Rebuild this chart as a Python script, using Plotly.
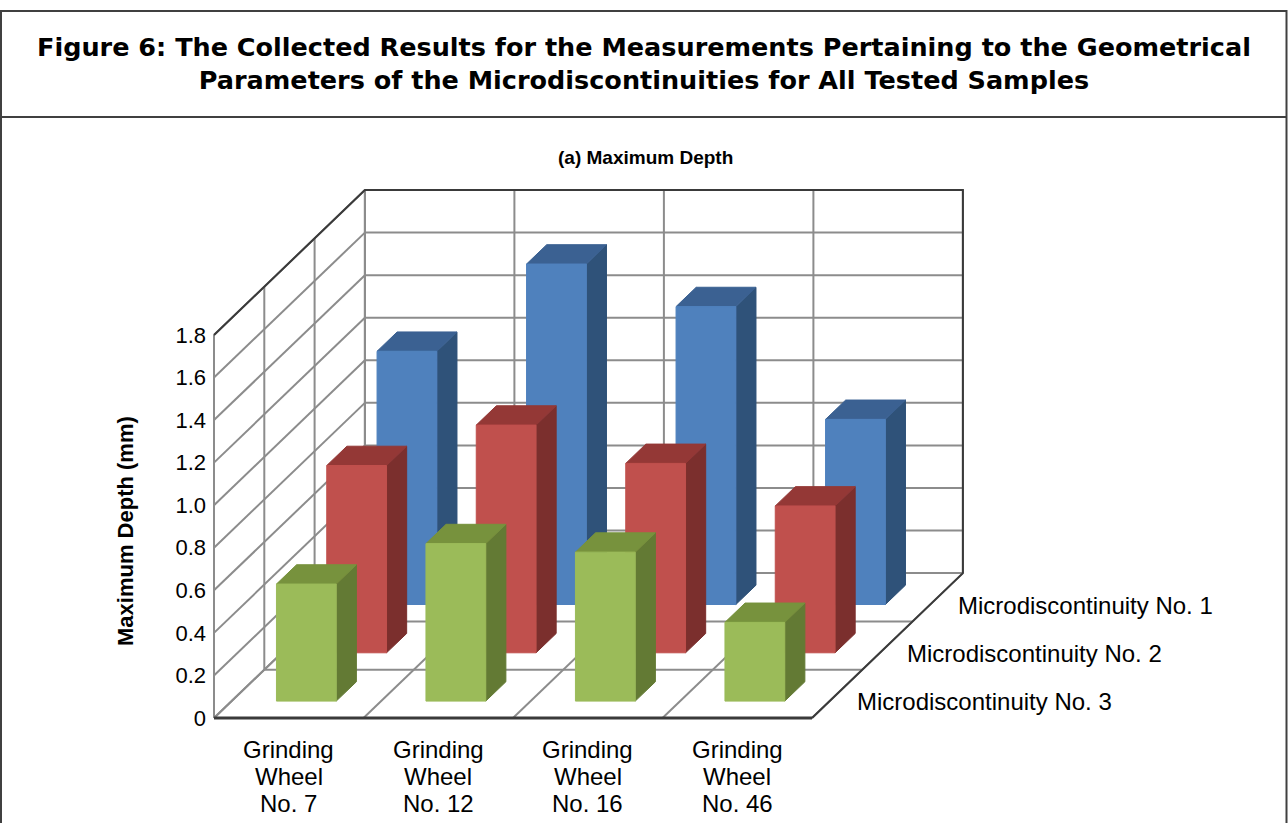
import plotly.graph_objects as go

# ---- data -------------------------------------------------------------
categories = ["Grinding Wheel No. 7", "Grinding Wheel No. 12",
              "Grinding Wheel No. 16", "Grinding Wheel No. 46"]
series_names = ["Microdiscontinuity No. 1", "Microdiscontinuity No. 2",
                "Microdiscontinuity No. 3"]
depth_no1 = [1.19, 1.60, 1.40, 0.87]
depth_no2 = [0.88, 1.07, 0.89, 0.69]
depth_no3 = [0.55, 0.74, 0.70, 0.37]
value_ticks = [0, 0.2, 0.4, 0.6, 0.8, 1.0, 1.2, 1.4, 1.6, 1.8]
value_tick_labels = ["0", "0.2", "0.4", "0.6", "0.8", "1.0", "1.2", "1.4", "1.6", "1.8"]

# ---- layout of the oblique 3-D box -----------------------------------
W, H = 1288, 823
PX_CAT = 149.5          # pixels per category along the front edge
PX_VAL = 212.8          # pixels per value unit
ORIGIN_X, ORIGIN_Y = 214, 718   # front-left floor corner in pixels
ROW_DX = 50.3 / PX_CAT  # depth shift per series row (x units)
ROW_DY = 48.3 / PX_VAL  # depth shift per series row (value units)
N_CAT = len(categories)
N_ROW = len(series_names)
VMAX = value_ticks[-1]
BAR_W = 0.4             # bar width as a fraction of a category slot
BAR_D = 0.4             # bar depth as a fraction of a series row
BAR_D_OFFSET = 0.35     # front face position inside the row

x_range = [-ORIGIN_X / PX_CAT, (W - ORIGIN_X) / PX_CAT]
y_range = [(ORIGIN_Y - H) / PX_VAL, ORIGIN_Y / PX_VAL]


def proj(x, v, d):
    """Oblique projection: category x, value v, depth d (rows from front)."""
    return x + d * ROW_DX, v + d * ROW_DY


def add_segments(xs, ys, pts):
    for p in pts:
        xs.append(p[0])
        ys.append(p[1])
    xs.append(None)
    ys.append(None)


fig = go.Figure()

# ---- walls and floor gridlines ---------------------------------------
gx, gy = [], []
for v in value_ticks:
    add_segments(gx, gy, [proj(0, v, N_ROW), proj(N_CAT, v, N_ROW)])   # back wall
    add_segments(gx, gy, [proj(0, v, 0), proj(0, v, N_ROW)])           # side wall
for c in range(N_CAT + 1):
    add_segments(gx, gy, [proj(c, 0, N_ROW), proj(c, VMAX, N_ROW)])    # back wall
    add_segments(gx, gy, [proj(c, 0, 0), proj(c, 0, N_ROW)])           # floor
for r in range(N_ROW + 1):
    add_segments(gx, gy, [proj(0, 0, r), proj(0, VMAX, r)])            # side wall
    add_segments(gx, gy, [proj(0, 0, r), proj(N_CAT, 0, r)])           # floor
fig.add_trace(go.Scatter(x=gx, y=gy, mode="lines",
                         line=dict(color="#8c8c8c", width=2),
                         hoverinfo="skip"))

ex, ey = [], []
add_segments(ex, ey, [proj(0, VMAX, 0), proj(0, VMAX, N_ROW), proj(N_CAT, VMAX, N_ROW),
                      proj(N_CAT, 0, N_ROW), proj(N_CAT, 0, 0)])
fig.add_trace(go.Scatter(x=ex, y=ey, mode="lines",
                         line=dict(color="#3a3a3a", width=2), hoverinfo="skip"))
fx, fy = [], []
add_segments(fx, fy, [proj(0, 0, 0), proj(N_CAT, 0, 0)])
fig.add_trace(go.Scatter(x=fx, y=fy, mode="lines",
                         line=dict(color="#3a3a3a", width=3), hoverinfo="skip"))

# ---- bars (back row first) -------------------------------------------
series = [
    (depth_no1, 2, ("#4f81bd", "#2f5279", "#3b6192")),
    (depth_no2, 1, ("#c0504d", "#7b2f2d", "#943836")),
    (depth_no3, 0, ("#9bbb59", "#637a34", "#77923d")),
]
for values, row, (c_front, c_side, c_top) in series:
    front, side, top = ([], []), ([], []), ([], [])
    for i, h in enumerate(values):
        x0 = i + (1 - BAR_W) / 2
        x1 = x0 + BAR_W
        d0 = row + BAR_D_OFFSET
        d1 = d0 + BAR_D
        add_segments(*front, [proj(x0, 0, d0), proj(x1, 0, d0), proj(x1, h, d0),
                              proj(x0, h, d0), proj(x0, 0, d0)])
        add_segments(*side, [proj(x1, 0, d0), proj(x1, 0, d1), proj(x1, h, d1),
                             proj(x1, h, d0), proj(x1, 0, d0)])
        add_segments(*top, [proj(x0, h, d0), proj(x1, h, d0), proj(x1, h, d1),
                            proj(x0, h, d1), proj(x0, h, d0)])
    for (xs, ys), col in ((side, c_side), (top, c_top), (front, c_front)):
        fig.add_trace(go.Scatter(x=xs, y=ys, mode="lines", fill="toself",
                                 fillcolor=col, line=dict(color=col, width=1),
                                 hoverinfo="skip"))

annotations = []

# ---- category labels under the front edge (three lines each) ---------
for i, name in enumerate(categories):
    for k, part in enumerate(name.split(" ", 2)):
        annotations.append(dict(x=i + 0.5, y=0, xref="x", yref="y", text=part,
                                showarrow=False, xanchor="center", yanchor="middle",
                                yshift=-(31 + 27 * k),
                                font=dict(family="Arial", size=24, color="black")))

# ---- series labels along the right floor edge ------------------------
for row, name in zip([2, 1, 0], series_names):
    px, py = proj(N_CAT, 0, row + 0.5)
    annotations.append(dict(x=px, y=py, xref="x", yref="y", text=name,
                            showarrow=False, xanchor="left", yanchor="middle",
                            xshift=18, yshift=-8,
                            font=dict(family="Arial", size=24, color="black")))

annotations += [
    dict(x=0.5, y=1 - 64 / H, xref="paper", yref="paper",
         text="<b>Figure 6: The Collected Results for the Measurements Pertaining to the Geometrical"
              "<br>Parameters of the Microdiscontinuities for All Tested Samples</b>",
         showarrow=False, xanchor="center", yanchor="middle", align="center",
         font=dict(family="DejaVu Sans", size=25.5, color="black")),
    dict(x=645 / W, y=1 - 157 / H, xref="paper", yref="paper",
         text="<b>(a) Maximum Depth</b>", showarrow=False,
         xanchor="center", yanchor="middle",
         font=dict(family="Arial", size=19, color="black")),
    dict(x=125 / W, y=1 - 531 / H, xref="paper", yref="paper",
         text="<b>Maximum Depth (mm)</b>", showarrow=False, textangle=-90,
         xanchor="center", yanchor="middle",
         font=dict(family="Arial", size=22, color="black")),
]

shapes = [
    dict(type="rect", xref="paper", yref="paper", x0=1 / W, x1=1 - 1.5 / W,
         y0=-0.02, y1=1 - 11 / H, line=dict(color="#404040", width=2)),
    dict(type="line", xref="paper", yref="paper", x0=1 / W, x1=1 - 1.5 / W,
         y0=1 - 117 / H, y1=1 - 117 / H, line=dict(color="#404040", width=2)),
]

fig.update_layout(
    width=W, height=H, margin=dict(l=0, r=0, t=0, b=0),
    paper_bgcolor="white", plot_bgcolor="white", showlegend=False,
    annotations=annotations, shapes=shapes,
    xaxis=dict(range=x_range, domain=[0, 1], visible=False),
    yaxis=dict(range=y_range, domain=[0, 1], anchor="free",
               position=ORIGIN_X / W,
               tickmode="array", tickvals=value_ticks, ticktext=value_tick_labels,
               ticks="", ticklabelstandoff=8,
               showgrid=False, zeroline=False, showline=False, automargin=False,
               tickfont=dict(family="Arial", size=22, color="black")),
)

fig.write_html("out.html")
